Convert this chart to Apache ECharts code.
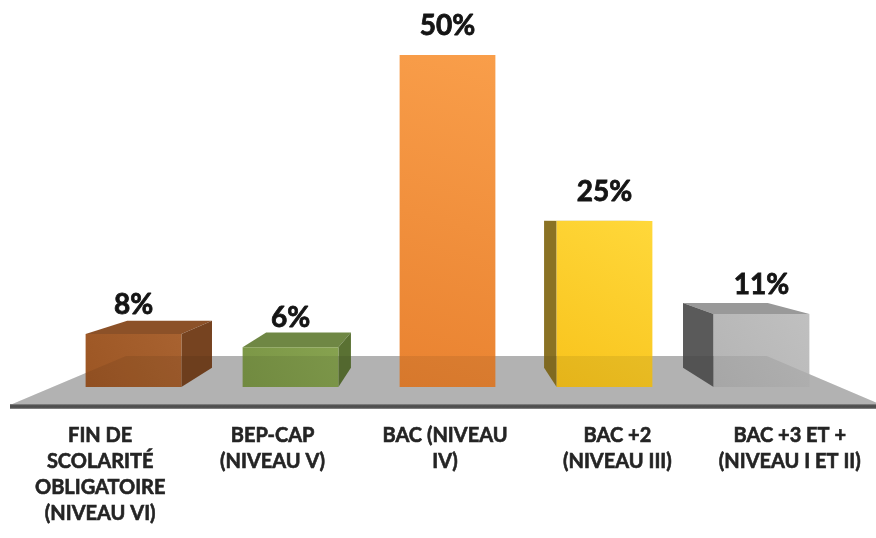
<!DOCTYPE html>
<html>
<head>
<meta charset="utf-8">
<script src="https://cdn.jsdelivr.net/npm/echarts@6/dist/echarts.min.js"></script>
<style>
  html, body { margin: 0; padding: 0; background: #ffffff; }
  #chart { width: 876px; height: 538px; }
</style>
</head>
<body>
<div id="chart"></div>
<script>
// Niveau de diplôme : répartition en pourcentage
const categories = [
  'FIN DE\nSCOLARITÉ\nOBLIGATOIRE\n(NIVEAU VI)',
  'BEP-CAP\n(NIVEAU V)',
  'BAC (NIVEAU\nIV)',
  'BAC +2\n(NIVEAU III)',
  'BAC +3 ET +\n(NIVEAU I ET II)'
];
const shares = [8, 6, 50, 25, 11];
const axisMax = 50;

// Face colours of each block: front gradient (top, bottom), top face, side face
const PALETTE = [
  { front: ['#A86230', '#9C5624'], top: '#8C5128', side: '#764320' },
  { front: ['#86A24F', '#7B9646'], top: '#6F8744', side: '#5A7133' },
  { front: ['#F99E4A', '#E98230'], top: '#D27428', side: '#B0601E' },
  { front: ['#FFD83A', '#F8C31C'], top: '#C9A820', side: '#8A7224' },
  { front: ['#C0C0C0', '#B4B4B4'], top: '#999999', side: '#5A5A5A' }
];

const W = 876, H = 538;
// Label grid sits on the front edge of the floor, bar grid a little further back
const LABEL_GRID = { left: 14, right: -6, top: 300, bottom: 133 };
const BAR_GRID = { left: 55, right: 36, top: 55, bottom: 151 };
const HORIZON = 25.2;     // eye level, in axis units
const BAR_DEPTH = 0.885;  // back face scale towards the vanishing point
const FLOOR_DEPTH = 0.735;
const FONT = 'Lato, "Open Sans", sans-serif';

const barBase = H - BAR_GRID.bottom;
const pxPerUnit = (barBase - BAR_GRID.top) / axisMax;
const VX = BAR_GRID.left + (W - BAR_GRID.left - BAR_GRID.right) / 2;
const VY = barBase - HORIZON * pxPerUnit;

// Floor plane
const floorFrontY = H - LABEL_GRID.bottom;
const floorL = 10, floorR = 882;
const toBack = (x, y, k) => [VX + (x - VX) * k, VY + (y - VY) * k];
const floorPts = [
  [floorL, floorFrontY], [floorR, floorFrontY],
  toBack(floorR, floorFrontY, FLOOR_DEPTH), toBack(floorL, floorFrontY, FLOOR_DEPTH)
];

function renderBlock(params, api) {
  const i = api.value(0);
  const v = api.value(1);
  const base = api.coord([i, 0]);
  const top = api.coord([i, v]);
  const w = api.size([1, 0])[0] * 0.61;
  const cs = params.coordSys;
  const vx = cs.x + cs.width / 2;
  const vy = api.coord([0, HORIZON])[1];
  const L = base[0] - w / 2, R = base[0] + w / 2, T = top[1], B = base[1];
  const back = (x, y) => [vx + (x - vx) * BAR_DEPTH, vy + (y - vy) * BAR_DEPTH];
  const c = PALETTE[params.dataIndex];
  const children = [];
  if (T > vy) {
    children.push({ type: 'polygon', shape: { points: [[L, T], [R, T], back(R, T), back(L, T)] },
      style: { fill: c.top } });
  }
  if (R < vx) {
    children.push({ type: 'polygon', shape: { points: [[R, T], back(R, T), back(R, B), [R, B]] },
      style: { fill: c.side } });
  } else if (L > vx) {
    children.push({ type: 'polygon', shape: { points: [[L, T], back(L, T), back(L, B), [L, B]] },
      style: { fill: c.side } });
  }
  children.push({
    type: 'rect', shape: { x: L, y: T, width: R - L, height: B - T },
    style: { fill: new echarts.graphic.LinearGradient(1, 0, 0, 1, [
      { offset: 0, color: c.front[0] }, { offset: 1, color: c.front[1] }
    ]) }
  });
  children.push({
    type: 'text',
    style: {
      text: v + '%', x: base[0], y: T - 29, align: 'center', verticalAlign: 'middle',
      font: 'bold 28px ' + FONT, fill: '#141414', stroke: '#141414', lineWidth: 0.8
    }
  });
  return { type: 'group', children };
}

const chart = echarts.init(document.getElementById('chart'), null, { renderer: 'canvas' });
chart.setOption({
  animation: false,
  backgroundColor: '#ffffff',
  grid: [LABEL_GRID, BAR_GRID],
  xAxis: [
    {
      gridIndex: 0, type: 'category', data: categories,
      axisLine: { show: false }, axisTick: { show: false },
      axisLabel: {
        interval: 0, margin: 18, lineHeight: 26, fontSize: 20, fontWeight: 'bold',
        fontFamily: FONT, color: '#242424',
        textBorderColor: '#242424', textBorderWidth: 0.6
      }
    },
    { gridIndex: 1, type: 'category', data: categories, show: false }
  ],
  yAxis: [
    { gridIndex: 0, type: 'value', show: false },
    { gridIndex: 1, type: 'value', min: 0, max: axisMax, show: false }
  ],
  graphic: [
    { type: 'polygon', z: 0, shape: { points: floorPts }, style: { fill: '#C1C1C1' }, silent: true },
    { type: 'polygon', z: 50, shape: { points: floorPts }, style: { fill: 'rgba(0,0,0,0.075)' }, silent: true },
    { type: 'rect', z: 51, shape: { x: floorL, y: floorFrontY - 1, width: floorR - floorL, height: 5 },
      style: { fill: new echarts.graphic.LinearGradient(0, 0, 0, 1, [
        { offset: 0, color: '#8c8c8c' }, { offset: 0.35, color: '#4a4a4a' },
        { offset: 0.75, color: '#555555' }, { offset: 1, color: '#9a9a9a' }
      ]) }, silent: true }
  ],
  series: [{
    type: 'custom',
    xAxisIndex: 1, yAxisIndex: 1, z: 5,
    renderItem: renderBlock,
    encode: { x: 0, y: 1 },
    data: shares.map((v, i) => [i, v])
  }]
});
</script>
</body>
</html>
